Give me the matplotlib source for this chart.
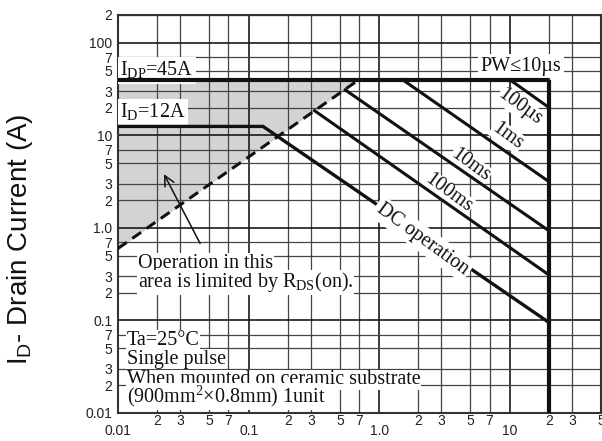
import matplotlib as mpl

mpl.use("Agg")
import matplotlib.pyplot as plt

# --- data ---
IDP_X = [0.01, 20]
IDP_Y = [40, 40]
VDSS_X = [20, 20]
VDSS_Y = [40, 0.01]
DC_X = [0.01, 0.129, 20]
DC_Y = [12.5, 12.5, 0.095]
RDS_X = [0.01, 0.7]
RDS_Y = [0.6, 40]

PULSE_NAMES = ["100µs", "1ms", "10ms", "100ms"]
PULSE_X0 = [10, 1.51, 0.55, 0.32]
PULSE_Y0 = [40, 40, 31, 18.5]
PULSE_X1 = [20, 20, 20, 20]
PULSE_Y1 = [20, 3.16, 0.93, 0.31]

X_MAJOR = [0.01, 0.1, 1, 10]
X_MAJOR_LABELS = ["0.01", "0.1", "1.0", "10"]
X_MINOR = [0.02, 0.03, 0.05, 0.07, 0.2, 0.3, 0.5, 0.7, 2, 3, 5, 7, 20, 30, 50]
X_MINOR_LABELS = ["2", "3", "5", "7"] * 3 + ["2", "3", "5"]
Y_MAJOR = [0.01, 0.1, 1, 10, 100]
Y_MAJOR_LABELS = ["0.01", "0.1", "1.0", "10", "100"]
Y_MINOR = [0.02, 0.03, 0.05, 0.07, 0.2, 0.3, 0.5, 0.7, 2, 3, 5, 7,
           20, 30, 50, 70, 200]
Y_MINOR_LABELS = ["2", "3", "5", "7"] * 4 + ["2"]

SERIF = "Liberation Serif"
SANS = "Liberation Sans"
plt.rcParams["mathtext.fontset"] = "custom"
plt.rcParams["mathtext.rm"] = SERIF
plt.rcParams["mathtext.sf"] = SANS
plt.rcParams["font.family"] = SANS

fig = plt.figure(figsize=(6.02, 4.41), dpi=100)
ax = fig.add_axes([118 / 602, 28 / 441, 483 / 602, 398 / 441])
ax.set_xscale("log")
ax.set_yscale("log")
ax.set_xlim(0.01, 50)
ax.set_ylim(0.01, 200)

ax.set_xticks(X_MAJOR, X_MAJOR_LABELS)
ax.set_xticks(X_MINOR, X_MINOR_LABELS, minor=True)
ax.set_yticks(Y_MAJOR, Y_MAJOR_LABELS)
ax.set_yticks(Y_MINOR, Y_MINOR_LABELS, minor=True)
ax.tick_params(axis="both", which="both", length=0, labelsize=10, labelcolor="#222")
ax.tick_params(axis="x", which="major", pad=8)
ax.tick_params(axis="x", which="minor", pad=0.5)
ax.tick_params(axis="y", which="both", pad=4)

ax.grid(True, which="major", color="#1a1a1a", lw=1.2, zorder=1)
ax.grid(True, which="minor", color="#444444", lw=0.9, zorder=1)
ax.set_axisbelow(True)
for sp in ax.spines.values():
    sp.set_color("#333")
    sp.set_linewidth(1.5)

# area limited by RDS(on)
ax.fill_between(RDS_X, RDS_Y, [40, 40], color="#d3d3d3", lw=0, zorder=0.3)
ax.plot(RDS_X, RDS_Y, color="#111", lw=2.2, ls=(0, (3.5, 2.2)), zorder=4)

ax.plot(IDP_X, IDP_Y, color="#111", lw=3.0, zorder=5, solid_capstyle="butt")
ax.plot(VDSS_X, VDSS_Y, color="#111", lw=3.0, zorder=5, solid_capstyle="butt")
ax.plot(DC_X, DC_Y, color="#111", lw=2.4, zorder=5)
for x0, y0, x1, y1 in zip(PULSE_X0, PULSE_Y0, PULSE_X1, PULSE_Y1):
    ax.plot([x0, x1], [y0, y1], color="#111", lw=2.2, zorder=5)

box = dict(boxstyle="square,pad=0.12", fc="white", ec="none")
tight = dict(boxstyle="square,pad=0.03", fc="white", ec="none")
tkw = dict(family=SERIF, fontsize=14.5, color="#111", zorder=3)

ax.text(0.0104, 44, r"I$_{\rm DP}$=45A", ha="left", va="baseline", bbox=box, **tkw)
ax.text(0.0104, 15.7, r"I$_{\rm D}$=12A", ha="left", va="baseline", bbox=box, **tkw)
ax.text(12.2, 50, "PW≤10µs", ha="center", va="baseline", bbox=box, **tkw)

# rotated labels along the lines
label_pos = [(12.0, 20.1), (9.6, 9.8), (4.98, 4.75), (3.4, 2.37)]
for name, (lx, ly) in zip(PULSE_NAMES, label_pos):
    ax.text(lx, ly, name, ha="center", va="center", rotation=-36,
            rotation_mode="anchor", bbox=tight, **tkw)
# DC label sits on top of its line and breaks it
ax.text(2.15, 0.76, "DC operation", ha="center", va="center", rotation=-36,
        rotation_mode="anchor", family=SERIF, fontsize=14.5, color="#111",
        zorder=6, bbox=dict(boxstyle="square,pad=0.15", fc="white", ec="none"))

ax.text(0.0142, 0.37, "Operation in this", ha="left", va="baseline", bbox=tight, **tkw)
ax.text(0.0142, 0.229, r"area is limited by R$_{\rm DS}$(on).", ha="left",
        va="baseline", bbox=tight, **tkw)
ax.annotate("", xy=(0.022, 4.05), xytext=(0.0435, 0.64),
            arrowprops=dict(arrowstyle="->", lw=1.1, color="#111", mutation_scale=18),
            zorder=4)

notes = ["Ta=25°C", "Single pulse", "When mounted on ceramic substrate",
         "(900mm$^{2}$×0.8mm) 1unit"]
note_y = [0.0543, 0.0341, 0.0205, 0.0129]
for s, ny in zip(notes, note_y):
    ax.text(0.01166, ny, s, ha="left", va="baseline", bbox=tight, **tkw)

ax.set_ylabel(r"I$_{\mathsf{D}}$- Drain Current (A)", fontsize=20, color="#111")
ax.yaxis.set_label_coords(-0.172, 0.437)

fig.savefig("out.png", dpi=100)
